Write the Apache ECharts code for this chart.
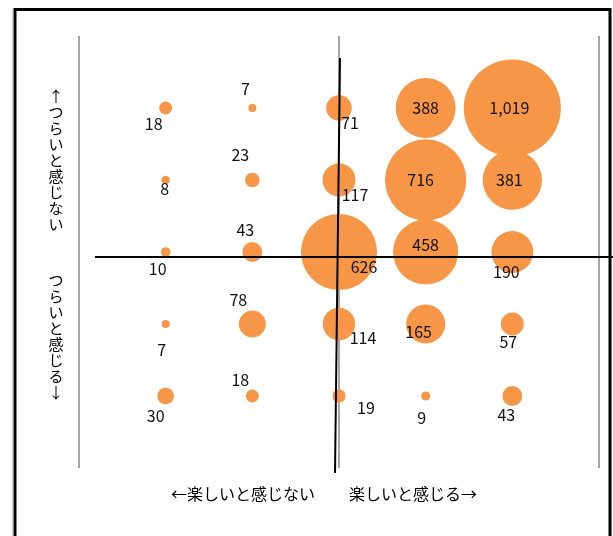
<!DOCTYPE html>
<html><head><meta charset="utf-8">
<script src="https://cdn.jsdelivr.net/npm/echarts@6/dist/echarts.min.js"></script>
<style>html,body{margin:0;padding:0;background:#fff}#c{width:613px;height:536px}</style>
</head><body><div id="c"></div>
<script>
// categories: columns (楽しい axis) and rows (つらい axis)
const colPos = [1, 2, 3, 4, 5];
const rowPos = [5, 4, 3, 2, 1];
// values, row by row (top to bottom), column by column (left to right)
const row1 = [18, 7, 71, 388, 1019];
const row2 = [8, 23, 117, 716, 381];
const row3 = [10, 43, 626, 458, 190];
const row4 = [7, 78, 114, 165, 57];
const row5 = [30, 18, 19, 9, 43];
const rowsVals = [row1, row2, row3, row4, row5];
const xTitleLeft = '←楽しいと感じない';
const xTitleRight = '楽しいと感じる→';
const yTitleTop = '↑つらいと感じない';
const yTitleBottom = 'つらいと感じる↓';

// label offsets (px) per cell, same layout as values
const labelOffsets = [
  [[-12,16],[-7,-19],[11,15],[0,0],[-3,0]],
  [[-1,9],[-12,-25],[16,15],[-5,0],[-3,0]],
  [[-8,17],[-7,-22],[25,15],[0,-7],[-6,20]],
  [[-4,26],[-14,-24],[24,14],[-7,8],[-4,18]],
  [[-10,20],[-12,-16],[27,12],[-4,22],[-6,19]]
];

const data = [];
rowsVals.forEach((row, r) => row.forEach((v, c) => {
  data.push({ value: [colPos[c], rowPos[r], v], label: { offset: labelOffsets[r][c] } });
}));

const chart = echarts.init(document.getElementById('c'), null, { renderer: 'canvas' });
const jp = '"Noto Sans CJK JP", sans-serif';
const vert = s => Array.from(s).join('\n');

chart.setOption({
  animation: false,
  grid: { left: 79, top: 36, width: 520, height: 432 },
  xAxis: {
    type: 'value', min: 0, max: 6, interval: 3,
    axisLine: { show: false }, axisTick: { show: false }, axisLabel: { show: false },
    splitLine: { show: true, lineStyle: { color: '#a6a6a6', width: 2 } }
  },
  yAxis: {
    type: 'value', min: 0, max: 6, interval: 1,
    axisLine: { show: false }, axisTick: { show: false }, axisLabel: { show: false },
    splitLine: { show: false }
  },
  series: [{
    type: 'scatter',
    data: data,
    symbolSize: d => 3.04 * Math.sqrt(d[2]),
    itemStyle: { color: '#F79646', opacity: 1 },
    label: {
      show: true, position: 'inside', color: '#111',
      fontFamily: '"Liberation Sans Narrow", "Noto Sans CJK JP", sans-serif', fontSize: 16,
      formatter: p => p.value[2].toLocaleString('en-US')
    },
    z: 2
  }],
  graphic: [
    { type: 'rect', shape: { x: 15, y: 9.5, width: 595, height: 540 }, style: { fill: null, stroke: '#000', lineWidth: 3 }, z: 0 },
    { type: 'line', shape: { x1: 13, y1: 9, x2: 13, y2: 536 }, style: { stroke: '#999', lineWidth: 1 } },
    { type: 'line', shape: { x1: 95, y1: 257, x2: 613, y2: 257 }, style: { stroke: '#000', lineWidth: 2 }, z: 10 },
    { type: 'line', shape: { x1: 340, y1: 58, x2: 335, y2: 473 }, style: { stroke: '#000', lineWidth: 2 }, z: 10 },
    { type: 'text', x: 243, y: 494, style: { text: xTitleLeft, font: '16px ' + jp, fill: '#000', textAlign: 'center', textVerticalAlign: 'middle' } },
    { type: 'text', x: 413, y: 494, style: { text: xTitleRight, font: '16px ' + jp, fill: '#000', textAlign: 'center', textVerticalAlign: 'middle' } },
    { type: 'text', x: 56, y: 88, style: { text: vert(yTitleTop), font: '15px ' + jp, lineHeight: 16, fill: '#000', textAlign: 'center', textVerticalAlign: 'top' } },
    { type: 'text', x: 56, y: 272, style: { text: vert(yTitleBottom), font: '15px ' + jp, lineHeight: 16, fill: '#000', textAlign: 'center', textVerticalAlign: 'top' } }
  ]
});
</script></body></html>
